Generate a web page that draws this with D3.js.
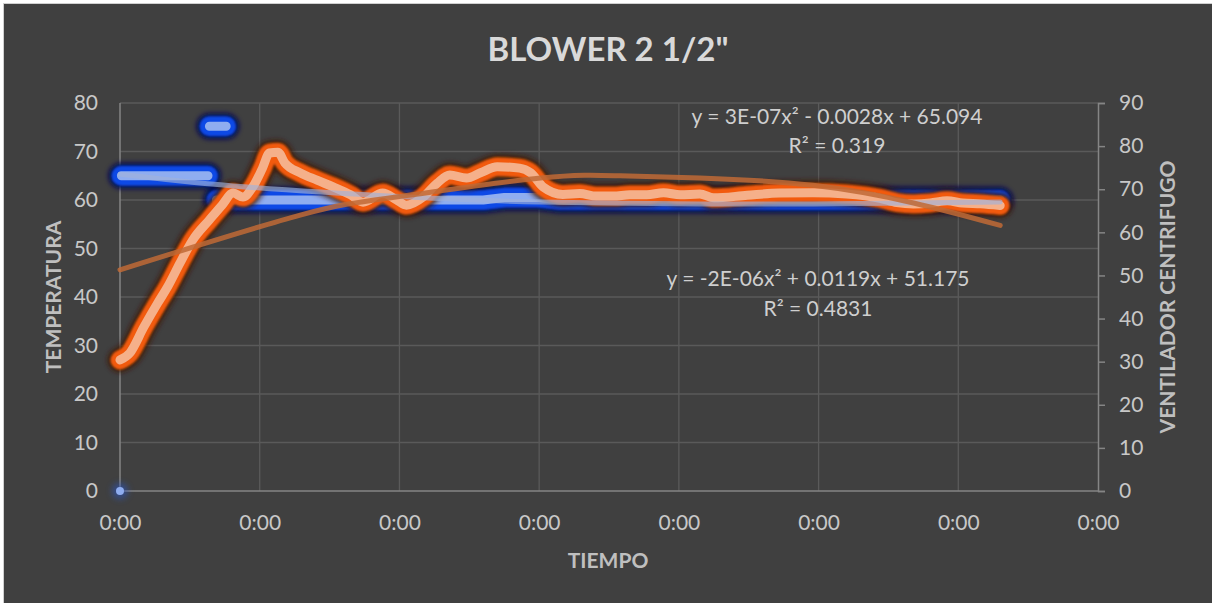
<!DOCTYPE html>
<html>
<head>
<meta charset="utf-8">
<script src="https://cdn.jsdelivr.net/npm/d3@7"></script>
<style>
    html, body { margin: 0; padding: 0; background: #ffffff; }
    svg text { font-family: Lato, "Open Sans", sans-serif; }
</style>
</head>
<body>
<div id="chart"></div>
<script>
// tick labels (time axis shows h:mm, every label rounds to 0:00)
const timeTicks = [0, 100, 200, 300, 400, 500, 600, 700];
const timeTickLabels = ["0:00", "0:00", "0:00", "0:00", "0:00", "0:00", "0:00", "0:00"];
const tempTicks = [0, 10, 20, 30, 40, 50, 60, 70, 80];
const fanTicks = [0, 10, 20, 30, 40, 50, 60, 70, 80, 90];

// setpoint / temperature series (left axis), null = gap
const tempTime = [0, null, 1, 63, null, 64, 76, null, 69, 260, 275, 300, 315, 630];
const tempValue = [0, null, 65, 65, null, 75.2, 75.2, null, 60, 60, 60.5, 60.5, 60, 60];

// ventilador centrifugo series (right axis)
const fanTime = [0, 7, 17, 27, 34, 43, 52, 64, 73, 81, 88, 95, 102, 107, 113, 118, 129, 141, 153, 165,
    174, 188, 198, 205, 217, 227, 236, 248, 258, 270, 286, 294, 303, 317, 329, 341, 353, 365, 377, 389,
    401, 415, 425, 449, 472, 496, 520, 544, 556, 568, 580, 592, 603, 616, 630];
const fanValue = [30.4, 32.0, 38.0, 43.6, 47.3, 52.9, 58.2, 62.9, 66.3, 69.1, 68.2, 70.5, 74.9, 78.4, 78.6, 76.1, 73.8, 72.1, 70.5, 68.7,
    67.0, 69.1, 67.5, 66.3, 68.2, 71.4, 73.3, 72.6, 73.8, 75.2, 74.9, 73.8, 70.5, 68.8, 69.0, 68.4, 68.4, 68.7, 68.7, 69.2,
    68.7, 68.9, 68.0, 68.6, 69.1, 69.2, 68.9, 67.9, 66.9, 66.6, 66.8, 67.3, 66.8, 66.6, 66.2];

// polynomial trendlines
const tempTrendTime = [0, 81, 200, 301, 415, 496, 630];
const tempTrendValue = [65.3, 62.9, 60.7, 59.6, 59.2, 59.2, 59.6];
const fanTrendTime = [0, 129, 200, 301, 358, 415, 496, 568, 630];
const fanTrendValue = [51.3, 64.0, 68.3, 72.6, 73.1, 72.6, 70.9, 66.8, 61.6];

const tempTrendLabel = ["y = 3E-07x² - 0.0028x + 65.094", "R² = 0.319"];
const fanTrendLabel = ["y = -2E-06x² + 0.0119x + 51.175", "R² = 0.4831"];

const width = 1212, height = 603;
const plot = { left: 120, right: 1098, top: 103, bottom: 491 };

const svg = d3.select("#chart").append("svg")
    .attr("width", width)
    .attr("height", height);

const defs = svg.append("defs");
defs.append("filter").attr("id", "soft")
    .attr("x", "-10%").attr("y", "-50%").attr("width", "120%").attr("height", "200%")
    .append("feGaussianBlur").attr("stdDeviation", 2.4);
defs.append("filter").attr("id", "edge")
    .attr("x", "-10%").attr("y", "-50%").attr("width", "120%").attr("height", "200%")
    .append("feGaussianBlur").attr("stdDeviation", 0.8);
defs.append("filter").attr("id", "halo")
    .attr("x", "-100%").attr("y", "-100%").attr("width", "300%").attr("height", "300%")
    .append("feGaussianBlur").attr("stdDeviation", 3);

// background
svg.append("rect")
    .attr("x", 3.5).attr("y", 3.5)
    .attr("width", width).attr("height", height)
    .attr("fill", "#404040")
    .attr("stroke", "#d0d0d0");

const x = d3.scaleLinear().domain([0, 700]).range([plot.left, plot.right]);
const yL = d3.scaleLinear().domain([0, 80]).range([plot.bottom, plot.top]);
const yR = d3.scaleLinear().domain([0, 90]).range([plot.bottom, plot.top]);

// gridlines
svg.append("g")
    .selectAll("line")
    .data(tempTicks.slice(1))
    .enter().append("line")
    .attr("x1", plot.left).attr("x2", plot.right)
    .attr("y1", d => yL(d)).attr("y2", d => yL(d))
    .attr("stroke", "#5a5a5a").attr("stroke-width", 1.3);

svg.append("g")
    .selectAll("line")
    .data(timeTicks.slice(1, -1))
    .enter().append("line")
    .attr("x1", d => x(d)).attr("x2", d => x(d))
    .attr("y1", plot.top).attr("y2", plot.bottom)
    .attr("stroke", "#5a5a5a").attr("stroke-width", 1.3);

// axes
const axisColor = "#858585";
svg.append("line")
    .attr("x1", plot.left).attr("x2", plot.left)
    .attr("y1", plot.top).attr("y2", plot.bottom)
    .attr("stroke", axisColor).attr("stroke-width", 1.5);
svg.append("line")
    .attr("x1", plot.left).attr("x2", plot.right)
    .attr("y1", plot.bottom).attr("y2", plot.bottom)
    .attr("stroke", axisColor).attr("stroke-width", 1.5);

const rightAxis = svg.append("g")
    .attr("transform", `translate(${plot.right},0)`)
    .call(d3.axisRight(yR).tickValues(fanTicks).tickSize(7).tickPadding(14));
rightAxis.select(".domain").attr("stroke", axisColor).attr("stroke-width", 1.5);
rightAxis.selectAll(".tick line").attr("stroke", axisColor).attr("stroke-width", 1.5);
rightAxis.selectAll(".tick text")
    .attr("fill", "#c8c8c8").attr("font-size", 21).attr("font-family", "Lato");

const leftAxis = svg.append("g")
    .attr("transform", `translate(${plot.left},0)`)
    .call(d3.axisLeft(yL).tickValues(tempTicks).tickSize(0).tickPadding(22));
leftAxis.select(".domain").remove();
leftAxis.selectAll(".tick text")
    .attr("fill", "#c8c8c8").attr("font-size", 21).attr("font-family", "Lato");

const bottomAxis = svg.append("g")
    .attr("transform", `translate(0,${plot.bottom})`)
    .call(d3.axisBottom(x).tickValues(timeTicks)
        .tickFormat((d, i) => timeTickLabels[i]).tickSize(0).tickPadding(24));
bottomAxis.select(".domain").remove();
bottomAxis.selectAll(".tick text")
    .attr("fill", "#c8c8c8").attr("font-size", 21).attr("font-family", "Lato");

// temperature series (glowing blue)
const tempPts = tempTime.map((t, i) => ({ t: t, v: tempValue[i] }));
// isolated points (gap on both sides) show as a dot, not as part of the line
const isLonely = (d, i) => d.t != null &&
    (i === 0 || tempPts[i - 1].t == null) &&
    (i === tempPts.length - 1 || tempPts[i + 1].t == null);
const lonely = tempPts.filter(isLonely);
const linePts = tempPts.map((d, i) => isLonely(d, i) ? { t: null, v: null } : d);

const tempLine = d3.line()
    .defined(d => d.t != null && d.v != null)
    .x(d => x(d.t)).y(d => yL(d.v));

const blue = svg.append("g");
blue.append("path").attr("d", tempLine(linePts))
    .attr("fill", "none").attr("stroke", "#000c55").attr("stroke-width", 26)
    .attr("stroke-linecap", "round").attr("stroke-linejoin", "round")
    .attr("filter", "url(#soft)");
blue.append("path").attr("d", tempLine(linePts))
    .attr("fill", "none").attr("stroke", "#1149e6").attr("stroke-width", 20)
    .attr("stroke-linecap", "round").attr("stroke-linejoin", "round")
    .attr("filter", "url(#edge)");
blue.append("path").attr("d", tempLine(linePts))
    .attr("fill", "none").attr("stroke", "#8fadf0").attr("stroke-width", 9)
    .attr("stroke-linecap", "round").attr("stroke-linejoin", "round");

blue.selectAll(".glow").data(lonely).enter().append("circle")
    .attr("cx", d => x(d.t)).attr("cy", d => yL(d.v)).attr("r", 8)
    .attr("fill", "#2a57c8").attr("opacity", 0.55).attr("filter", "url(#halo)");
blue.selectAll(".dot").data(lonely).enter().append("circle")
    .attr("cx", d => x(d.t)).attr("cy", d => yL(d.v)).attr("r", 4)
    .attr("fill", "#8fadf0");

// fan series (glowing orange)
const fanPts = fanTime.map((t, i) => ({ t: t, v: fanValue[i] }));
const fanLine = d3.line()
    .x(d => x(d.t)).y(d => yR(d.v))
    .curve(d3.curveMonotoneX);

const orange = svg.append("g");
orange.append("path").attr("d", fanLine(fanPts))
    .attr("fill", "none").attr("stroke", "#3d1806").attr("stroke-width", 25)
    .attr("stroke-linecap", "round").attr("stroke-linejoin", "round")
    .attr("opacity", 0.8).attr("filter", "url(#soft)");
orange.append("path").attr("d", fanLine(fanPts))
    .attr("fill", "none").attr("stroke", "#f25a07").attr("stroke-width", 19)
    .attr("stroke-linecap", "round").attr("stroke-linejoin", "round")
    .attr("filter", "url(#edge)");
orange.append("path").attr("d", fanLine(fanPts))
    .attr("fill", "none").attr("stroke", "#f5b08a").attr("stroke-width", 9)
    .attr("stroke-linecap", "round").attr("stroke-linejoin", "round");

// trendlines
const tempTrend = tempTrendTime.map((t, i) => ({ t: t, v: tempTrendValue[i] }));
const fanTrend = fanTrendTime.map((t, i) => ({ t: t, v: fanTrendValue[i] }));

svg.append("path")
    .attr("d", d3.line().x(d => x(d.t)).y(d => yL(d.v)).curve(d3.curveNatural)(tempTrend))
    .attr("fill", "none").attr("stroke", "#9fb2da").attr("stroke-width", 5)
    .attr("stroke-linecap", "round").attr("opacity", 0.65);

svg.append("path")
    .attr("d", d3.line().x(d => x(d.t)).y(d => yR(d.v)).curve(d3.curveNatural)(fanTrend))
    .attr("fill", "none").attr("stroke", "#c06a36").attr("stroke-width", 5)
    .attr("stroke-linecap", "round").attr("opacity", 0.85);

// trendline equations
const eqColor = "#cfcfcf";
svg.append("g").selectAll("text")
    .data(tempTrendLabel)
    .enter().append("text")
    .attr("x", 837).attr("y", (d, i) => 115 + i * 29)
    .attr("text-anchor", "middle").attr("dominant-baseline", "central")
    .attr("fill", eqColor).attr("font-size", 21)
    .text(d => d);

svg.append("g").selectAll("text")
    .data(fanTrendLabel)
    .enter().append("text")
    .attr("x", 818).attr("y", (d, i) => 277 + i * 30)
    .attr("text-anchor", "middle").attr("dominant-baseline", "central")
    .attr("fill", eqColor).attr("font-size", 21)
    .text(d => d);

// titles
svg.append("text")
    .attr("x", 608).attr("y", 48)
    .attr("text-anchor", "middle").attr("dominant-baseline", "central")
    .attr("fill", "#d9d9d9").attr("font-size", 33).attr("font-weight", "bold")
    .text('BLOWER 2 1/2"');

svg.append("text")
    .attr("x", 608).attr("y", 559)
    .attr("text-anchor", "middle").attr("dominant-baseline", "central")
    .attr("fill", "#bfbfbf").attr("font-size", 21).attr("font-weight", "bold")
    .text("TIEMPO");

svg.append("text")
    .attr("transform", "translate(52,297) rotate(-90)")
    .attr("text-anchor", "middle").attr("dominant-baseline", "central")
    .attr("fill", "#bfbfbf").attr("font-size", 21).attr("font-weight", "bold")
    .text("TEMPERATURA");

svg.append("text")
    .attr("transform", "translate(1166,297) rotate(-90)")
    .attr("text-anchor", "middle").attr("dominant-baseline", "central")
    .attr("fill", "#bfbfbf").attr("font-size", 21).attr("font-weight", "bold")
    .text("VENTILADOR CENTRIFUGO");
</script>
</body>
</html>
